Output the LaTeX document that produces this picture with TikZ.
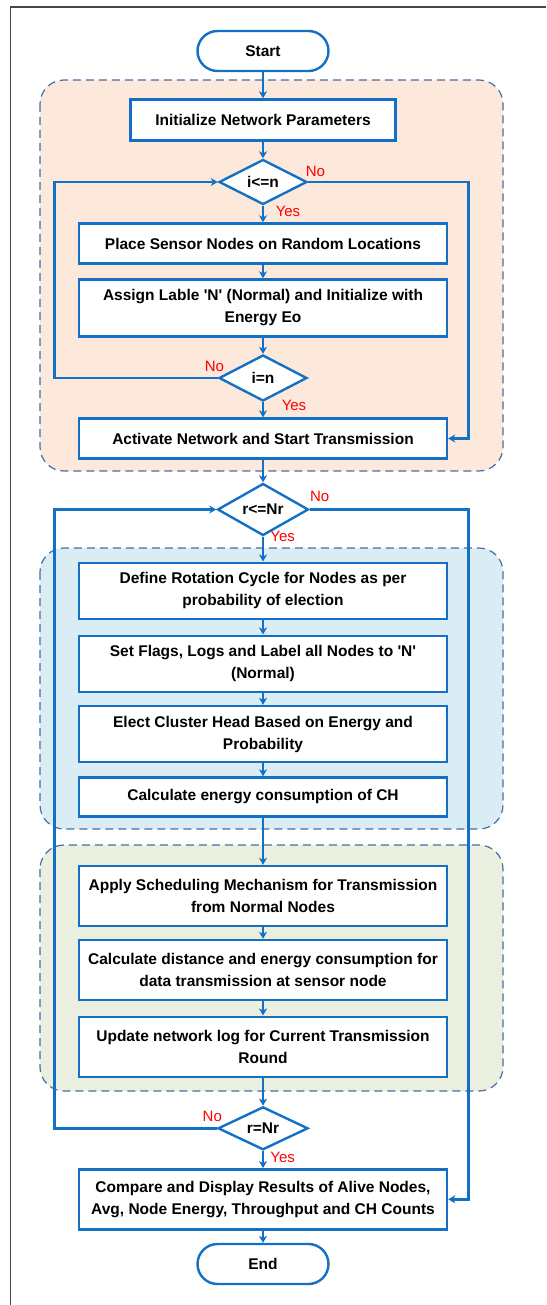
\documentclass[tikz,border=0pt]{standalone}
\usepackage{fontspec}
\setmainfont{Liberation Sans}[Ligatures=TeXOff]
\usetikzlibrary{arrows.meta,shapes.geometric}
\definecolor{flow}{RGB}{20,112,196}
\definecolor{dashc}{RGB}{70,110,165}
\definecolor{peach}{RGB}{252,233,219}
\definecolor{lightblue}{RGB}{219,237,244}
\definecolor{lightgreen}{RGB}{235,239,223}
\definecolor{framec}{RGB}{70,70,70}
\tikzset{
  region/.style={draw=dashc, line width=1.2pt, dash pattern=on 8pt off 5pt, rounded corners=24pt},
  boxnode/.style={draw=flow, line width=2.4pt, fill=white, minimum width=368pt, align=center, inner sep=2pt,
     font=\fontsize{15.5}{22}\selectfont\bfseries},
  term/.style={draw=flow, line width=2.4pt, fill=white, rounded corners=20pt, minimum width=131pt, minimum height=40pt,
     font=\fontsize{15.5}{22}\selectfont\bfseries},
  dec/.style={draw=flow, line width=2.4pt, fill=white, diamond, inner sep=0pt, minimum width=88pt,
     font=\fontsize{15.5}{22}\selectfont\bfseries},
  arr/.style={draw=flow, line width=2.4pt, -{Stealth[length=7pt,width=8pt,inset=2pt]}},
  lbl/.style={text=red, inner sep=0pt, font=\fontsize{15}{18}\selectfont}
}
\begin{document}
\begin{tikzpicture}[x=1pt,y=-1pt]
\useasboundingbox (0,0) rectangle (546,1305);
\fill[white] (0,0) rectangle (546,1305);
\draw[framec, line width=1.3pt] (546,7) -- (10.5,7) -- (10.5,1305);

% regions
\draw[region, fill=peach] (40,80) rectangle (503,471);
\draw[region, fill=lightblue] (40,548) rectangle (503,829);
\draw[region, fill=lightgreen] (40,845) rectangle (503,1091);

\coordinate (lx) at (54.5,0);
\coordinate (rx) at (468.5,0);

% nodes
\node[term] (start) at (263,51) {Start};
\node[boxnode, minimum width=265pt, minimum height=41pt] (init) at (263,120) {Initialize Network Parameters};
\node[dec, minimum height=45pt] (d1) at (263,182) {i<=n};
\node[boxnode, minimum height=40pt] (place) at (263,243.5) {Place Sensor Nodes on Random Locations};
\node[boxnode, minimum height=57pt] (assign) at (263,308) {Assign Lable 'N' (Normal) and Initialize with\\Energy Eo};
\node[dec, minimum height=46pt] (d2) at (263,378) {i=n};
\node[boxnode, minimum height=40pt] (act) at (263,438.5) {Activate Network and Start Transmission};
\node[dec, minimum width=91pt, minimum height=40pt] (d3) at (263,509.5) {r<=Nr};
\node[boxnode, minimum height=56pt] (define) at (263,590.7) {Define Rotation Cycle for Nodes as per\\probability of election};
\node[boxnode, minimum height=56pt] (flags) at (263,663.7) {Set Flags, Logs and Label all Nodes to 'N'\\(Normal)};
\node[boxnode, minimum height=56pt] (elect) at (263,734) {Elect Cluster Head Based on Energy and\\Probability};
\node[boxnode, minimum height=39pt] (calcch) at (263,797) {Calculate energy consumption of CH};
\node[boxnode, minimum height=60pt] (apply) at (263,896) {Apply Scheduling Mechanism for Transmission\\from Normal Nodes};
\node[boxnode, minimum height=60pt] (dist) at (263,970) {Calculate distance and energy consumption for\\data transmission at sensor node};
\node[boxnode, minimum height=60pt] (update) at (263,1046.7) {Update network log for Current Transmission\\Round};
\node[dec, minimum width=90pt, minimum height=36pt] (d4) at (263,1128.3) {r=Nr};
\node[boxnode, minimum height=60pt] (compare) at (263,1199.3) {Compare and Display Results of Alive Nodes,\\Avg, Node Energy, Throughput and CH Counts};
\node[term] (end) at (263,1264) {End};

% connectors
\draw[arr] (start) -- (init);
\draw[arr] (init) -- (d1);
\draw[arr] (d1) -- (place);
\draw[arr] (place) -- (assign);
\draw[arr] (assign) -- (d2);
\draw[arr] (d2) -- (act);
\draw[arr] (d2.west) -- (d2.west -| lx) |- (d1.west);
\draw[arr] (d1.east) -- (d1.east -| rx) |- (act.east);
\draw[arr] (act) -- (d3);
\draw[arr] (d3) -- (define);
\draw[arr] (define) -- (flags);
\draw[arr] (flags) -- (elect);
\draw[arr] (elect) -- (calcch);
\draw[arr] (calcch) -- (apply);
\draw[arr] (apply) -- (dist);
\draw[arr] (dist) -- (update);
\draw[arr] (update) -- (d4);
\draw[arr] (d4) -- (compare);
\draw[arr] (d4.west) -- (d4.west -| lx) |- (d3.west);
\draw[arr] (d3.east) -- (d3.east -| rx) |- (compare.east);
\draw[arr] (compare) -- (end);

% labels
\node[lbl] (no1) at (315.5,171.5) {No};
\node[lbl] (yes1) at (288,211) {Yes};
\node[lbl] (no2) at (214.5,366) {No};
\node[lbl] (yes2) at (294,405) {Yes};
\node[lbl] (no3) at (319.7,496.3) {No};
\node[lbl] (yes3) at (282.7,536) {Yes};
\node[lbl] (no4) at (212.3,1116) {No};
\node[lbl] (yes4) at (282.7,1157.3) {Yes};
\end{tikzpicture}
\end{document}
